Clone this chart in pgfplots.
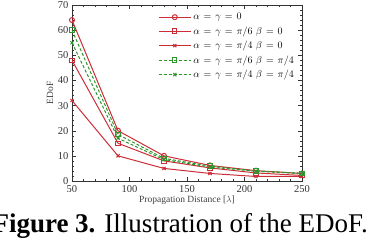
\documentclass[border=0pt]{standalone}
\usepackage{pgfplots}
\pgfplotsset{compat=1.18}
\usepackage{fontspec}
\setmainfont{Liberation Serif}
\definecolor{cred}{RGB}{205,45,55}
\definecolor{cgreen}{RGB}{45,150,45}
\newcommand{\legfont}{\fontsize{10}{12}\selectfont\thickmuskip=7mu\relax}
\begin{document}
\begin{tikzpicture}
\begin{axis}[
  at={(72pt,59pt)}, anchor=south west,
  scale only axis, width=230pt, height=176pt,
  xmin=50, xmax=250, ymin=0, ymax=70,
  xtick={50,100,150,200,250}, ytick={0,10,...,70},
  minor x tick num=4, minor y tick num=4,
  tick align=inside, major tick length=3.5pt, minor tick length=2pt,
  every tick/.style={black!80},
  axis line style={black!80},
  tick label style={font=\fontsize{10.5}{12}\selectfont, text=black!80},
  xticklabel style={yshift=-1pt},
  /pgf/number format/assume math mode=true,
  xlabel={Propagation Distance [$\lambda$]},
  ylabel={EDoF},
  label style={font=\fontsize{9.5}{11}\selectfont, text=black!75},
  xlabel style={yshift=4pt},
  ylabel style={yshift=-2pt},
  legend style={draw=none, fill=none, at={(0.37,1)}, anchor=north west,
    yshift=-5pt,
    font=\legfont, row sep=1.5pt,
    inner sep=1pt},
  legend cell align=left,
  legend image code/.code={\draw[mark repeat=2,mark phase=2] plot coordinates {(0pt,0pt) (16pt,0pt) (32pt,0pt)};},
  every axis plot/.append style={line width=1pt},
]
\addplot[cred, mark=o, mark size=2.5pt, mark options={solid}] coordinates {(50,64) (90,20) (130,10) (170,6.2) (210,4.1) (250,3)};
\addlegendentry{$\alpha=\gamma=0$}
\addplot[cred, mark=square, mark size=2.2pt, mark options={solid}] coordinates {(50,48) (90,15) (130,8) (170,5.2) (210,3.2) (250,2.2)};
\addlegendentry{$\alpha=\gamma=\pi/6\,\,\beta=0$}
\addplot[cred, mark=x, mark size=2.2pt, mark options={solid}] coordinates {(50,32) (90,10) (130,5) (170,3) (210,1.8) (250,1.8)};
\addlegendentry{$\alpha=\gamma=\pi/4\,\,\beta=0$}
\addplot[cgreen, densely dashed, mark=square, mark size=2.2pt, mark options={solid}] coordinates {(50,60) (90,18.5) (130,9) (170,5.9) (210,4) (250,3)};
\addlegendentry{$\alpha=\gamma=\pi/6\,\,\beta=\pi/4$}
\addplot[cgreen, densely dashed, mark=x, mark size=2.2pt, mark options={solid}] coordinates {(50,55) (90,17) (130,8.5) (170,5.5) (210,3.9) (250,3)};
\addlegendentry{$\alpha=\gamma=\pi/4\,\,\beta=\pi/4$}
\end{axis}
\node[anchor=base east, inner sep=0pt, font=\fontsize{27}{32}\selectfont] at (368pt,7.5pt) {\textbf{Figure 3.} Illustration of the EDoF.};
\pgfresetboundingbox
\path[use as bounding box] (0,0) rectangle (370pt,240pt);
\end{tikzpicture}
\end{document}
